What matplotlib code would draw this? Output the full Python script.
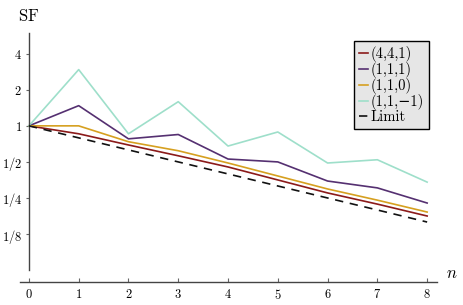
import numpy as np
import matplotlib
matplotlib.use("Agg")
import matplotlib.pyplot as plt

plt.rcParams['mathtext.fontset'] = 'cm'
plt.rcParams['font.family'] = 'DejaVu Serif'

n = [0, 1, 2, 3, 4, 5, 6, 7, 8]
# log2 of SF values
sf_441 = [0.0, -0.22, -0.53, -0.83, -1.14, -1.50, -1.86, -2.17, -2.50]
sf_111 = [0.0, 0.56, -0.36, -0.24, -0.92, -1.00, -1.53, -1.72, -2.14]
sf_110 = [0.0, 0.0, -0.44, -0.69, -1.03, -1.39, -1.75, -2.06, -2.39]
sf_11m1 = [0.0, 1.56, -0.22, 0.67, -0.56, -0.17, -1.03, -0.94, -1.56]
limit = [0.0, -0.333, -0.667, -1.0, -1.333, -1.667, -2.0, -2.333, -2.667]

series = [
    (sf_441, '#8b1a1a', '(4,4,1)', '-'),
    (sf_111, '#553071', '(1,1,1)', '-'),
    (sf_110, '#d6a020', '(1,1,0)', '-'),
    (sf_11m1, '#9edfca', '(1,1,\u22121)', '-'),
    (limit, '#111111', 'Limit', '--'),
]

ytick_vals = [4, 2, 1, 0.5, 0.25, 0.125]
ytick_labels = [r'$4$', r'$2$', r'$1$', r'$1/2$', r'$1/4$', r'$1/8$']

fig = plt.figure(figsize=(4.64, 3.05), dpi=100)
ax = fig.add_axes([0.043, 0.0754, 0.899, 0.817])
ax.set_yscale('log', base=2)

for vals, col, lab, ls in series:
    y = [2.0 ** v for v in vals]
    if ls == '--':
        ax.plot(n, y, color=col, lw=1.2, ls=(0, (5, 4)), label=lab, zorder=3)
    else:
        ax.plot(n, y, color=col, lw=1.2, label=lab, zorder=2)

ax.set_xlim(-0.18, 8.2)
ax.set_ylim(2 ** -4.33, 2 ** 2.58)

for s in ['top', 'right']:
    ax.spines[s].set_visible(False)
ax.spines['left'].set_position(('data', 0))
ax.spines['left'].set_bounds(2 ** -4, 2 ** 2.58)
ax.spines['left'].set_color('#444444')
ax.spines['bottom'].set_color('#444444')
ax.spines['left'].set_linewidth(1.0)
ax.spines['bottom'].set_linewidth(1.0)

ax.set_xticks(n)
ax.set_xticklabels([r'$%d$' % v for v in n], fontsize=9)
ax.set_yticks(ytick_vals)
ax.set_yticklabels(ytick_labels, fontsize=9)
ax.yaxis.set_minor_locator(matplotlib.ticker.NullLocator())
ax.tick_params(axis='x', direction='in', length=3, color='#666666', pad=4)
ax.tick_params(axis='y', direction='out', length=2, color='#666666', pad=3)

fig.text(0.039, 0.93, r'$\mathrm{SF}$', fontsize=12, ha='left', va='baseline')
fig.text(0.962, 0.09, r'$n$', fontsize=12, ha='left', va='baseline')

leg = ax.legend(loc='upper right', bbox_to_anchor=(0.981, 0.968), borderaxespad=0,
                prop={'family': ['cmr10', 'DejaVu Serif'], 'size': 10.5},
                handlelength=0.6, handletextpad=0.2, borderpad=0.35,
                labelspacing=0.0, fancybox=False, frameon=True)
leg.get_frame().set_facecolor('#e6e6e6')
leg.get_frame().set_edgecolor('black')
leg.get_frame().set_linewidth(1.0)
leg.get_frame().set_alpha(1.0)

fig.savefig('out.png', dpi=100)
